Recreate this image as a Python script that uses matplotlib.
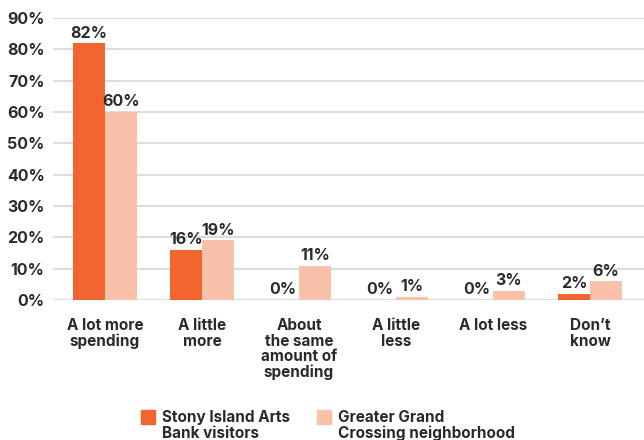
import matplotlib
matplotlib.use('Agg')
import numpy as np
import matplotlib.pyplot as plt
from matplotlib.patches import Rectangle

plt.rcParams['font.family'] = ['Inter', 'DejaVu Sans']
plt.rcParams['font.weight'] = 'bold'

# survey answers and shares per group
categories = ['A lot more\nspending', 'A little\nmore', 'About\nthe same\namount of\nspending',
              'A little\nless', 'A lot less', 'Don\u2019t\nknow']
visitors = [82, 16, 0, 0, 0, 2]
neighborhood = [60, 19, 11, 1, 3, 6]
series_names = ['Stony Island Arts\nBank visitors', 'Greater Grand\nCrossing neighborhood']
yticks = [0, 10, 20, 30, 40, 50, 60, 70, 80, 90]

DARK = '#F26531'
LIGHT = '#FAC1AA'
TEXT = '#2a2a2a'
FS = 11.5

fig = plt.figure(figsize=(6.44, 4.40), dpi=100)
ax = fig.add_axes([53 / 644, 1 - 300 / 440, 1 - 53 / 644, (300 - 18) / 440])

x = np.arange(len(categories))
w = 0.33
ax.bar(x - w / 2, visitors, w, color=DARK, zorder=3)
ax.bar(x + w / 2, neighborhood, w, color=LIGHT, zorder=3)

for xi, v in zip(x, visitors):
    ax.text(xi - w / 2, v + 0.8, f'{v}%', ha='center', va='bottom',
            fontsize=FS, color=TEXT, fontweight='bold')
for xi, v in zip(x, neighborhood):
    ax.text(xi + w / 2, v + 0.8, f'{v}%', ha='center', va='bottom',
            fontsize=FS, color=TEXT, fontweight='bold')

ax.set_xlim(-0.536, 5.557)
ax.set_ylim(0, 90)
ax.set_yticks(yticks)
ax.set_yticklabels([f'{t}%' for t in yticks], fontsize=FS, color=TEXT, fontweight='bold')
ax.set_xticks(x)
ax.set_xticklabels(categories, fontsize=11, color=TEXT, fontweight='bold',
                   linespacing=1.05, va='top')
ax.tick_params(axis='both', length=0)
ax.tick_params(axis='y', pad=6)
ax.tick_params(axis='x', pad=13)
ax.grid(axis='y', color='#dcdcdc', linewidth=1.5, zorder=0)
for s in ax.spines.values():
    s.set_visible(False)

# legend drawn by hand so the swatch sits on the first text line
leg_x = [141, 317]
for lx, name, col in zip(leg_x, series_names, [DARK, LIGHT]):
    fig.patches.append(Rectangle((lx / 644, 1 - 424 / 440), 14 / 644, 14 / 440,
                                 transform=fig.transFigure, color=col))
    fig.text((lx + 21) / 644, 1 - 410 / 440, name, ha='left', va='top',
             fontsize=11, color=TEXT, fontweight='bold', linespacing=1.05)

fig.savefig('out.png', dpi=100)
